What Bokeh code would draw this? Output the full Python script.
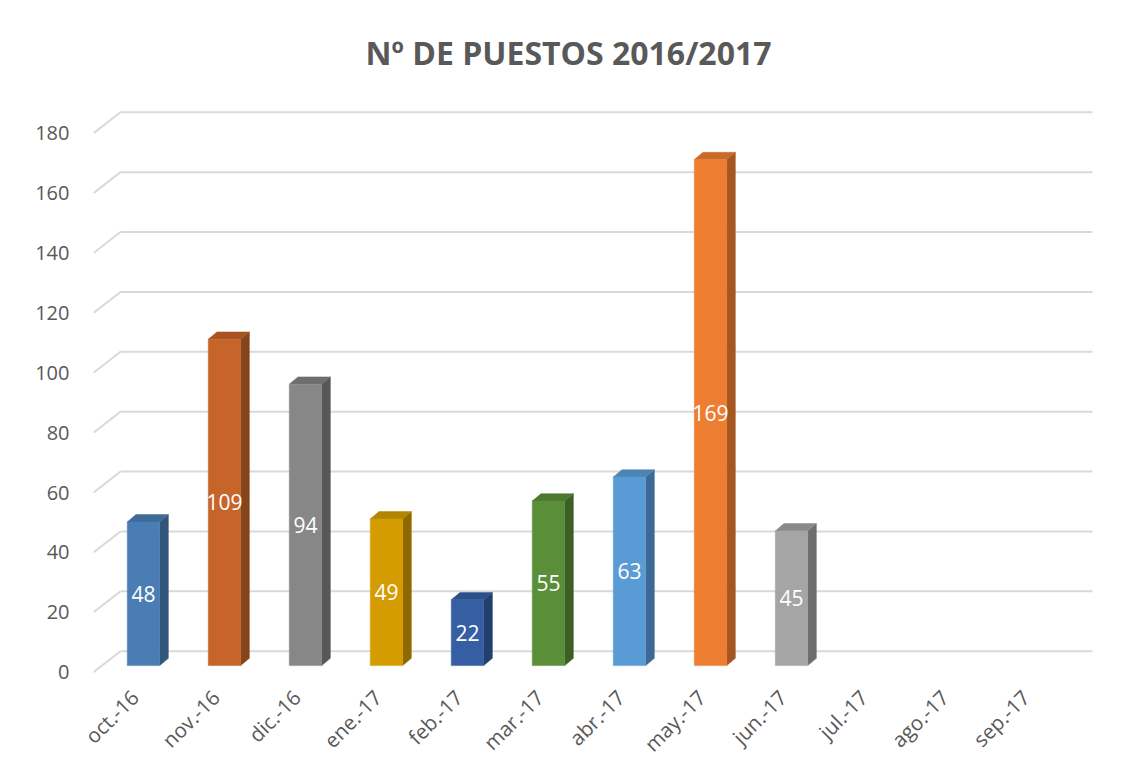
from bokeh.plotting import figure
from bokeh.models import FixedTicker, Range1d
from bokeh.core.properties import value
from bokeh.embed import file_html
from bokeh.resources import INLINE

# ---- data ----
months = ["oct.-16", "nov.-16", "dic.-16", "ene.-17", "feb.-17", "mar.-17",
          "abr.-17", "may.-17", "jun.-17", "jul.-17", "ago.-17", "sep.-17"]
puestos = [48, 109, 94, 49, 22, 55, 63, 169, 45]
y_ticks = [0, 20, 40, 60, 80, 100, 120, 140, 160, 180]
title_text = "Nº DE PUESTOS 2016/2017"

front_colors = ["#4A7DB3", "#C7642A", "#878787", "#D49C00", "#355EA3",
                "#5B8E38", "#5B9BD5", "#ED7D31", "#A5A5A5"]
side_colors = ["#315679", "#87431A", "#575757", "#8E6900", "#233F6E",
               "#3C5F25", "#3D6A94", "#A65721", "#6E6E6E"]
top_colors = ["#3E6A99", "#A95322", "#6E6E6E", "#B38400", "#2C4F8A",
              "#4C7830", "#4C84B6", "#C96A29", "#8A8A8A"]

# ---- 3D projection style constants ----
BAR_W = 0.4      # front face width (category units)
DX = 0.107       # depth shift, x (category units)
DY = 2.43        # depth shift, y (value units)
BASE = 2.2       # bar base above front plane
WALL_DX = 0.333  # back wall shift x
WALL_DY = 7.0    # back wall shift y
LABEL_SHIFT = -0.11
X0, X1 = -0.617, 11.815
Y0, Y1 = -1.1, 190.6

p = figure(width=1116, height=775, output_backend="svg", toolbar_location=None,
           x_range=Range1d(X0, X1), y_range=Range1d(Y0, Y1),
           min_border_left=93, min_border_right=16, min_border_top=100,
           min_border_bottom=100)
p.outline_line_color = None
p.background_fill_color = "white"
p.border_fill_color = "white"
p.xgrid.visible = False
p.ygrid.visible = False

# title
p.title.text = title_text
p.title.align = "left"
p.title.offset = 272
p.title.text_font = "Open Sans"
p.title.text_font_size = "32px"
p.title.text_font_style = "bold"
p.title.text_color = "#595959"
p.title.standoff = 56

# gridlines (back wall + left wall diagonals)
gx_front = [X0 for t in y_ticks]
gx_back = [X0 + WALL_DX for t in y_ticks]
gx_right = [11.716 for t in y_ticks]
p.segment(x0=gx_front, y0=y_ticks, x1=gx_back, y1=[t + WALL_DY for t in y_ticks],
          line_color="#d9d9d9", line_width=2)
p.segment(x0=gx_back, y0=[t + WALL_DY for t in y_ticks], x1=gx_right,
          y1=[t + WALL_DY for t in y_ticks], line_color="#d9d9d9", line_width=2)

# bars
idx = list(range(len(puestos)))
hw = BAR_W / 2
side_xs = [[i + hw, i + hw + DX, i + hw + DX, i + hw] for i in idx]
side_ys = [[BASE, BASE + DY, v + BASE + DY, v + BASE] for v in puestos]
top_xs = [[i - hw, i - hw + DX, i + hw + DX, i + hw] for i in idx]
top_ys = [[v + BASE, v + BASE + DY, v + BASE + DY, v + BASE] for v in puestos]
p.patches(side_xs, side_ys, fill_color=side_colors, line_color=side_colors, line_width=0.5)
p.patches(top_xs, top_ys, fill_color=top_colors, line_color=top_colors, line_width=0.5)
p.vbar(x=idx, width=BAR_W, bottom=BASE, top=[v + BASE for v in puestos],
       fill_color=front_colors, line_color=front_colors, line_width=0.5)

# data labels
p.text(x=idx, y=[BASE + v / 2 for v in puestos], text=[str(v) for v in puestos],
       text_color="white", text_font=value("Open Sans"), text_font_size="21px",
       text_align="center", text_baseline="middle")

# axes
p.yaxis.ticker = FixedTicker(ticks=y_ticks)
p.yaxis.axis_line_color = None
p.yaxis.major_tick_line_color = None
p.yaxis.minor_tick_line_color = None
p.yaxis.major_label_text_font = "Open Sans"
p.yaxis.major_label_text_font_size = "20px"
p.yaxis.major_label_text_color = "#595959"
p.yaxis.major_label_standoff = 18

x_ticks = [i + LABEL_SHIFT for i in range(len(months))]
p.xaxis.ticker = FixedTicker(ticks=x_ticks)
p.xaxis.major_label_overrides = {t: m for t, m in zip(x_ticks, months)}
p.xaxis.major_label_orientation = 0.785398
p.xaxis.axis_line_color = None
p.xaxis.major_tick_line_color = None
p.xaxis.minor_tick_line_color = None
p.xaxis.major_label_text_font = "Open Sans"
p.xaxis.major_label_text_font_size = "20.5px"
p.xaxis.major_label_text_color = "#595959"
p.xaxis.major_label_standoff = 12

open("out.html", "w").write(file_html(p, INLINE))
